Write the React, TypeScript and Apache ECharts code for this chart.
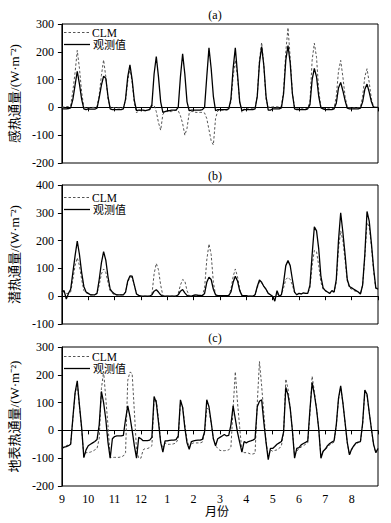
import React, { useEffect, useRef } from 'react';
import * as echarts from 'echarts';

// Month tick labels (Sep .. Aug)
const MONTH_LABELS = ['9', '10', '11', '12', '1', '2', '3', '4', '5', '6', '7', '8'];
// Hours of the mean diurnal cycle sampled in each month
const HOURS = [0, 2, 4, 6, 8, 10, 12, 14, 16, 18, 20, 22];

// (a) sensible heat flux, W m-2
const SH_OBS = [
  [-5, -5, -5, -4, -2, 29, 80, 130, 84, 30, -5, -8],
  [-5, -6, -6, -6, -3, 35, 80, 112, 105, 40, -5, -8],
  [-8, -8, -8, -8, -5, 30, 110, 153, 100, 25, -12, -10],
  [-10, -10, -12, -10, -8, 10, 120, 183, 110, 20, -18, -15],
  [-12, -12, -10, -10, -10, 0, 110, 193, 120, 20, -12, -10],
  [-10, -10, -10, -10, -8, 0, 110, 214, 140, 40, -12, -8],
  [-8, -8, -8, -8, -5, 30, 140, 214, 120, 20, -12, -8],
  [-8, -8, -8, -8, -5, 40, 160, 219, 150, 40, -10, -10],
  [-5, -5, -5, -5, -2, 50, 170, 222, 160, 50, -5, -8],
  [-8, -8, -8, -8, -5, 10, 100, 140, 110, 40, -2, -5],
  [-8, -8, -8, -8, -5, 15, 70, 90, 60, 25, -3, -5],
  [-5, -5, -5, -5, -3, 20, 65, 84, 55, 20, 0, 0],
];
const SH_CLM = [
  [0, 2, 3, 3, 5, 60, 125, 205, 140, 55, 0, -2],
  [-2, -2, 0, 0, 2, 45, 115, 171, 110, 30, 0, 0],
  [-2, -2, -2, -3, 0, 25, 95, 140, 90, 15, -20, -10],
  [-12, -12, -12, -10, -5, 5, 8, -15, -55, -82, -25, -15],
  [-15, -15, -15, -12, -10, -12, -30, -58, -100, -75, -20, -15],
  [-15, -18, -18, -18, -18, -20, -40, -80, -120, -135, -40, -12],
  [-10, -10, -10, -10, -8, 20, 110, 170, 110, 20, -18, -5],
  [-5, -5, -5, -5, -3, 40, 170, 234, 150, 30, 0, 2],
  [2, 2, 2, 2, 5, 60, 200, 287, 180, 50, 0, -5],
  [-5, -5, -5, -5, -3, 20, 170, 231, 180, 60, 0, -5],
  [-5, -5, -5, -5, -2, 40, 130, 169, 110, 40, 0, -2],
  [-2, -2, -2, -2, 0, 40, 110, 139, 90, 30, 2, 0],
];
const SH_END = [0, 0]; // [obs, clm] at the right edge

// (b) latent heat flux
const LH_OBS = [
  [15, 20, -10, 10, 25, 85, 145, 198, 150, 85, 35, 15],
  [10, 5, 5, 5, 10, 60, 120, 160, 130, 70, 25, 15],
  [8, 5, 5, 5, 5, 15, 55, 73, 72, 40, 8, 3],
  [0, 0, 0, 0, 0, 5, 18, 23, 15, 5, 0, 0],
  [0, 0, 0, 0, 0, 5, 18, 24, 12, 3, 0, 0],
  [3, 5, 3, 3, 2, 10, 50, 68, 60, 25, 5, 2],
  [2, 2, 2, 2, 2, 15, 50, 72, 55, 20, 3, 2],
  [2, 0, 0, 0, 5, 35, 58, 50, 35, 25, 10, 5],
  [0, -18, 20, 0, 5, 50, 110, 128, 110, 60, 15, 5],
  [10, 8, 12, 10, 10, 40, 150, 250, 235, 170, 70, 30],
  [20, 15, 10, 20, 15, 60, 200, 300, 230, 150, 60, 35],
  [30, 25, 20, 15, 8, 40, 150, 305, 270, 190, 100, 30],
];
const LH_CLM = [
  [15, 15, 10, 10, 15, 60, 110, 138, 110, 60, 20, 12],
  [10, 5, 5, 5, 10, 40, 80, 98, 85, 50, 20, 10],
  [5, 5, 5, 5, 5, 15, 50, 68, 68, 40, 8, 3],
  [0, 0, 0, 0, 0, 5, 80, 118, 95, 40, 2, 0],
  [0, 0, 0, 0, 0, 10, 40, 60, 55, 20, 2, 0],
  [3, 5, 3, 3, 2, 30, 130, 188, 150, 50, 5, 2],
  [2, 2, 2, 2, 2, 25, 70, 98, 70, 25, 3, 2],
  [2, 0, 0, 0, 5, 30, 52, 48, 35, 25, 10, 5],
  [0, -10, 10, 0, 5, 30, 60, 68, 60, 40, 12, 5],
  [10, 8, 10, 10, 10, 30, 110, 165, 160, 110, 50, 25],
  [20, 15, 10, 15, 15, 50, 170, 235, 200, 130, 55, 30],
  [25, 20, 18, 15, 8, 40, 140, 265, 250, 180, 90, 25],
];
const LH_END = [25, 30];

// (c) ground heat flux
const GH_OBS = [
  [-65, -60, -58, -55, -50, 45, 135, 178, 90, 10, -98, -70],
  [-55, -50, -45, -40, -33, 20, 140, 100, 40, -43, -100, -30],
  [-22, -20, -20, -20, -18, 40, 88, 50, 0, -55, -100, -25],
  [-30, -37, -37, -37, -35, -25, 122, 100, 30, -43, -78, -38],
  [-38, -36, -35, -35, -33, -20, 110, 83, 10, -45, -68, -40],
  [-38, -36, -35, -35, -32, -5, 110, 85, 30, -30, -55, -30],
  [-25, -20, -15, -20, -18, 20, 88, 41, -7, -43, -78, -40],
  [-45, -40, -38, -35, -30, 85, 105, 110, 29, -43, -105, -65],
  [-65, -58, -50, -45, -40, -5, 155, 128, 80, 0, -100, -65],
  [-62, -52, -47, -43, -38, 75, 172, 130, 77, 5, -100, -75],
  [-67, -55, -47, -42, -37, 20, 115, 160, 100, 29, -43, -88],
  [-67, -55, -45, -42, -40, 26, 145, 130, 65, 5, -50, -80],
];
const GH_CLM = [
  [-65, -60, -55, -52, -48, 40, 130, 170, 85, 5, -95, -80],
  [-80, -78, -75, -70, -65, -30, 150, 212, 115, 17, -97, -97],
  [-97, -97, -97, -95, -92, -80, 180, 210, 205, 70, -70, -100],
  [-100, -70, -65, -65, -62, -55, 110, 110, 40, -40, -65, -45],
  [-50, -50, -50, -48, -45, -30, 100, 85, 20, -35, -60, -48],
  [-45, -45, -45, -45, -42, -10, 80, 75, 25, -30, -55, -65],
  [-72, -73, -73, -72, -70, -60, 80, 211, 100, 10, -75, -80],
  [-80, -82, -85, -85, -82, 97, 248, 160, 60, -40, -95, -70],
  [-75, -72, -70, -65, -55, -10, 185, 150, 80, 0, -90, -75],
  [-65, -60, -55, -50, -45, 60, 195, 140, 80, 5, -95, -75],
  [-70, -60, -52, -47, -42, 15, 110, 155, 100, 29, -45, -88],
  [-70, -58, -48, -44, -42, 20, 140, 125, 65, 5, -55, -80],
];
const GH_END = [-65, -65];

const PANEL_TITLES = ['(a)', '(b)', '(c)'];
const Y_NAMES = ['感热通量/(W·m⁻²)', '潜热通量/(W·m⁻²)', '地表热通量/(W·m⁻²)'];
const Y_RANGES = [
  [-200, 300],
  [-100, 400],
  [-200, 300],
];
const X_NAME = '月份';
const SERIES_NAMES = ['CLM', '观测值'];

const FONT = "'Liberation Serif', 'Noto Sans CJK SC', serif";
const GRID_TOPS = [24, 185, 347];
const GRID_H = 139;
const GRID_LEFT = 53;
const GRID_W = 325;
const LEGEND_OFFSETS = [8.5, 12.5, 9.5];
const CLM_STYLE = { color: '#555', width: 1, dash: [2.5, 2] };
const OBS_STYLE = { color: '#000', width: 1.3 };

function toPoints(months: number[][], end: number) {
  const pts: number[][] = [];
  months.forEach((vals, m) => {
    vals.forEach((v, i) => pts.push([m + HOURS[i] / 24, v]));
  });
  pts.push([months.length, end]);
  return pts;
}

const PANELS = [
  { obs: SH_OBS, clm: SH_CLM, end: SH_END },
  { obs: LH_OBS, clm: LH_CLM, end: LH_END },
  { obs: GH_OBS, clm: GH_CLM, end: GH_END },
];

function buildOption() {
  const grid = GRID_TOPS.map((t) => ({
    left: GRID_LEFT,
    top: t,
    width: GRID_W,
    height: GRID_H,
    show: true,
    borderColor: '#000',
    borderWidth: 1,
    backgroundColor: 'transparent',
  }));
  const xAxis = GRID_TOPS.map((_, i) => ({
    type: 'value',
    gridIndex: i,
    min: 0,
    max: MONTH_LABELS.length,
    interval: 1,
    splitLine: { show: false },
    axisLine: { show: true, lineStyle: { color: '#000', width: 1 } },
    axisTick: { show: true, inside: false, length: 4, lineStyle: { color: '#000' } },
    axisLabel: {
      show: i === 2,
      margin: 7,
      fontFamily: FONT,
      fontSize: 12,
      color: '#000',
      formatter: (v: number) => (v < MONTH_LABELS.length ? MONTH_LABELS[v] : ''),
    },
  }));
  const yAxis = GRID_TOPS.map((_, i) => ({
    type: 'value',
    gridIndex: i,
    min: Y_RANGES[i][0],
    max: Y_RANGES[i][1],
    interval: 100,
    splitLine: { show: false },
    axisLine: { show: true, lineStyle: { color: '#000', width: 1 } },
    axisTick: { show: true, inside: false, length: 4, lineStyle: { color: '#000' } },
    axisLabel: { margin: 8, fontFamily: FONT, fontSize: 12, color: '#000' },
    name: Y_NAMES[i],
    nameLocation: 'middle',
    nameRotate: 90,
    nameGap: 30,
    nameTextStyle: { fontFamily: FONT, fontSize: 13, color: '#000' },
  }));
  const series: any[] = [];
  PANELS.forEach((p, i) => {
    series.push({
      name: SERIES_NAMES[0],
      type: 'line',
      xAxisIndex: i,
      yAxisIndex: i,
      symbol: 'none',
      showSymbol: false,
      data: toPoints(p.clm, p.end[1]),
      lineStyle: { color: CLM_STYLE.color, width: CLM_STYLE.width, type: CLM_STYLE.dash },
      itemStyle: { color: CLM_STYLE.color },
      z: 2,
    });
    series.push({
      name: SERIES_NAMES[1],
      type: 'line',
      xAxisIndex: i,
      yAxisIndex: i,
      symbol: 'none',
      showSymbol: false,
      data: toPoints(p.obs, p.end[0]),
      lineStyle: { color: OBS_STYLE.color, width: OBS_STYLE.width, type: 'solid' },
      itemStyle: { color: OBS_STYLE.color },
      z: 3,
    });
  });
  const graphic: any[] = [];
  PANEL_TITLES.forEach((txt, i) => {
    graphic.push({
      type: 'text',
      x: 215,
      y: GRID_TOPS[i] - 9,
      style: {
        text: txt,
        font: `12px ${FONT}`,
        fill: '#000',
        textAlign: 'center',
        textVerticalAlign: 'middle',
      },
    });
    const y1 = GRID_TOPS[i] + LEGEND_OFFSETS[i];
    const y2 = y1 + 12;
    graphic.push({
      type: 'line',
      shape: { x1: 64, y1, x2: 90, y2: y1 },
      style: { stroke: CLM_STYLE.color, lineWidth: CLM_STYLE.width, lineDash: CLM_STYLE.dash },
    });
    graphic.push({
      type: 'line',
      shape: { x1: 64, y1: y2, x2: 90, y2 },
      style: { stroke: OBS_STYLE.color, lineWidth: OBS_STYLE.width },
    });
    graphic.push({
      type: 'text',
      x: 92,
      y: y1,
      style: { text: SERIES_NAMES[0], font: `11.5px ${FONT}`, fill: '#000', textVerticalAlign: 'middle' },
    });
    graphic.push({
      type: 'text',
      x: 93,
      y: y2,
      style: { text: SERIES_NAMES[1], font: `11px ${FONT}`, fill: '#000', textVerticalAlign: 'middle' },
    });
  });
  graphic.push({
    type: 'text',
    x: 217,
    y: 512,
    style: {
      text: X_NAME,
      font: `12px ${FONT}`,
      fill: '#000',
      textAlign: 'center',
      textVerticalAlign: 'middle',
    },
  });
  return {
    animation: false,
    backgroundColor: '#fff',
    grid,
    xAxis,
    yAxis,
    series,
    graphic,
  };
}

export default function App() {
  const ref = useRef<HTMLDivElement>(null);
  useEffect(() => {
    const chart = echarts.init(ref.current!, null, { renderer: 'svg' });
    chart.setOption(buildOption() as any);
    return () => chart.dispose();
  }, []);
  return (
    <div
      ref={ref}
      style={{ position: 'fixed', left: 0, top: 0, width: 391, height: 523, background: '#fff' }}
    />
  );
}
